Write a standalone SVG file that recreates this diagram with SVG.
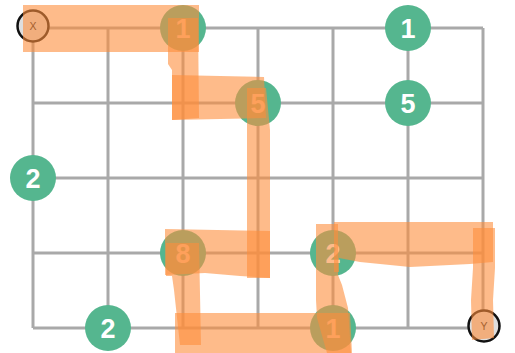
<svg xmlns="http://www.w3.org/2000/svg" width="515" height="353" viewBox="0 0 515 353">
  <style>
    .grid line { stroke: #a9a9a9; stroke-width: 3; }
    .node circle { fill: #55b68f; }
    .node text { fill: #ffffff; font-family: "Liberation Sans", Arial, sans-serif; font-weight: bold; font-size: 27px; text-anchor: middle; }
    .term circle { fill: #dedede; stroke: #111111; stroke-width: 2.5; }
    .term text { fill: #111111; font-family: "Liberation Sans", Arial, sans-serif; font-size: 10.5px; text-anchor: middle; }
    .hl polygon { fill: #fd8d3c; fill-opacity: 0.6; }
  </style>
  <rect width="515" height="353" fill="#ffffff"/>
  <g id="connectors" class="grid">
    <line x1="33" y1="28" x2="33" y2="328"/>
    <line x1="108" y1="28" x2="108" y2="328"/>
    <line x1="183" y1="28" x2="183" y2="328"/>
    <line x1="258" y1="28" x2="258" y2="328"/>
    <line x1="333" y1="28" x2="333" y2="328"/>
    <line x1="408" y1="28" x2="408" y2="328"/>
    <line x1="483" y1="28" x2="483" y2="328"/>
    <line x1="33" y1="28" x2="483" y2="28"/>
    <line x1="33" y1="103" x2="483" y2="103"/>
    <line x1="33" y1="178" x2="483" y2="178"/>
    <line x1="33" y1="253" x2="483" y2="253"/>
    <line x1="33" y1="328" x2="483" y2="328"/>
  </g>
  <g id="node-x" class="term"><circle cx="33" cy="26" r="15.5"/><text x="33" y="29.5">X</text></g>
  <g id="node-y" class="term"><circle cx="484" cy="326" r="15.5"/><text x="484" y="329.5">Y</text></g>
  <g id="node-1a" class="node"><circle cx="183" cy="28" r="23"/><text x="183" y="37.5">1</text></g>
  <g id="node-1b" class="node"><circle cx="408" cy="28" r="23"/><text x="408" y="37.5">1</text></g>
  <g id="node-5a" class="node"><circle cx="258" cy="103" r="23"/><text x="258" y="112.5">5</text></g>
  <g id="node-5b" class="node"><circle cx="408" cy="103" r="23"/><text x="408" y="112.5">5</text></g>
  <g id="node-2a" class="node"><circle cx="33" cy="178" r="23"/><text x="33" y="187.5">2</text></g>
  <g id="node-8" class="node"><circle cx="183" cy="253" r="23"/><text x="183" y="262.5">8</text></g>
  <g id="node-2b" class="node"><circle cx="333" cy="253" r="23"/><text x="333" y="262.5">2</text></g>
  <g id="node-2c" class="node"><circle cx="108" cy="328" r="23"/><text x="108" y="337.5">2</text></g>
  <g id="node-1c" class="node"><circle cx="333" cy="328" r="23"/><text x="333" y="337.5">1</text></g>
  <g id="highlight" class="hl">
    <polygon points="23,5 199,5 199,52 23,52"/>
    <polygon points="168,18 198,18 199,118 172,120 172,70 168,64"/>
    <polygon points="172,75 264,77 266,118 172,120"/>
    <polygon points="247,88 266,88 270,130 270,278 247,278"/>
    <polygon points="165,229 270,231 270,278 240,276 205,273 165,275"/>
    <polygon points="166,243 199,243 201,345 180,345 174,290 172,276 166,276"/>
    <polygon points="175,313 350,313 352,353 175,353"/>
    <polygon points="316,224 338,224 338,275 342,285 348,308 351,353 327,353 317,318 316,300"/>
    <polygon points="334,222 493,222 493,262 470,264 410,267 360,262 339,258 339,272 334,272"/>
    <polygon points="473,228 495,228 495,268 493,300 494,338 472,340 471,300 473,268"/>
  </g>
</svg>
